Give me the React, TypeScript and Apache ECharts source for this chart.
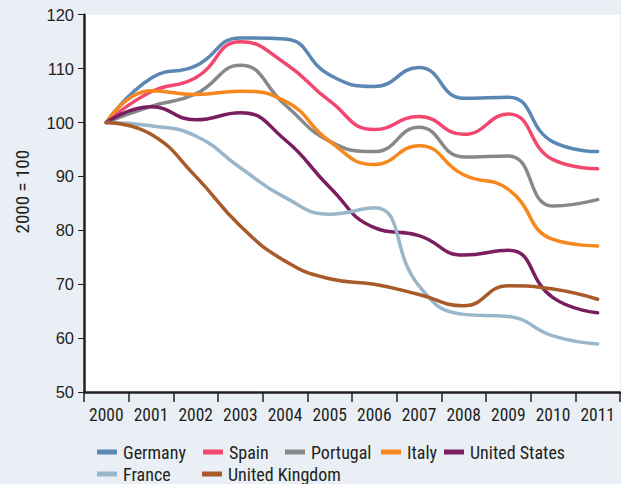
import React, { useEffect, useRef } from "react";
import * as echarts from "echarts";

const years = ["2000", "2001", "2002", "2003", "2004", "2005", "2006", "2007", "2008", "2009", "2010", "2011"];
const germany = [100, 108.2, 110.5, 115.7, 115.5, 108.8, 106.7, 110.2, 104.5, 104.7, 96.4, 94.6];
const spain = [100, 105.7, 108.3, 115.0, 111.0, 104.0, 98.7, 101.1, 97.8, 101.6, 93.1, 91.4];
const portugal = [100, 103.0, 105.3, 110.6, 103.3, 96.5, 94.6, 99.1, 93.6, 93.8, 84.5, 85.7];
const italy = [100, 105.9, 105.2, 105.8, 104.0, 96.5, 92.2, 95.7, 90.3, 87.6, 78.3, 77.1];
const unitedStates = [100, 102.9, 100.5, 101.8, 96.8, 88.0, 80.5, 79.0, 75.4, 76.3, 67.5, 64.7];
const france = [100, 99.4, 97.5, 91.6, 86.1, 83.0, 84.2, 69.7, 64.4, 64.0, 60.4, 58.9];
const unitedKingdom = [100, 97.8, 90.0, 80.8, 74.3, 71.0, 70.0, 68.1, 66.0, 69.7, 69.1, 67.2];

const seriesNames = ["Germany", "Spain", "Portugal", "Italy", "United States", "France", "United Kingdom"];
const seriesData = [germany, spain, portugal, italy, unitedStates, france, unitedKingdom];
const seriesColors = ["#5b87b5", "#f2476f", "#87888a", "#f7881f", "#7b1e5f", "#9ab6ca", "#a95a29"];

const yMin = 50;
const yMax = 120;
const yStep = 10;
const yName = "2000 = 100";

const NARROW = "'Roboto Condensed', 'Liberation Sans Narrow', 'Arial Narrow', sans-serif";
const REGULAR = "'Liberation Sans', Arial, sans-serif";
const INK = "#231f20";

const legendPos: [number, number][] = [
  [97, 443],
  [203, 443],
  [285, 443],
  [381, 443],
  [444, 443],
  [97, 465],
  [202, 465],
];

export default function App() {
  const ref = useRef<HTMLDivElement>(null);
  useEffect(() => {
    if (!ref.current) return;
    const chart = echarts.init(ref.current, null, { renderer: "svg" });
    chart.setOption({
      animation: false,
      backgroundColor: "#e9eff5",
      grid: {
        left: 84,
        right: 1,
        top: 14.7,
        bottom: 92,
        show: true,
        backgroundColor: "#ffffff",
        borderWidth: 0,
      },
      legend: seriesNames.map((n, i) => ({
        data: [n],
        left: legendPos[i][0],
        top: legendPos[i][1],
        padding: 0,
        itemGap: 0,
        itemWidth: 20,
        itemHeight: 5,
        icon: "rect",
        selectedMode: false,
        textStyle: { fontFamily: NARROW, fontSize: 18, color: INK, padding: [0, 0, 0, 1] },
      })),
      xAxis: {
        type: "category",
        data: years,
        boundaryGap: true,
        axisLine: { lineStyle: { color: INK, width: 2.5 } },
        axisTick: { show: true, interval: 0, length: 10, lineStyle: { color: INK, width: 1.5 } },
        axisLabel: { interval: 0, fontFamily: NARROW, fontSize: 17.5, color: INK, margin: 14 },
        splitLine: { show: false },
      },
      yAxis: {
        type: "value",
        min: yMin,
        max: yMax,
        interval: yStep,
        axisLine: { show: true, lineStyle: { color: INK, width: 2.5 } },
        axisTick: { show: true, length: 6, lineStyle: { color: INK, width: 1 } },
        axisLabel: { fontFamily: REGULAR, fontSize: 16.5, color: INK, margin: 10 },
        splitLine: { show: false },
      },
      graphic: [
        {
          type: "text",
          x: 22.5,
          y: 191.7,
          rotation: Math.PI / 2,
          style: {
            text: yName,
            fontFamily: NARROW,
            fontSize: 19,
            fill: INK,
            align: "center",
            verticalAlign: "middle",
            textAlign: "center",
            textVerticalAlign: "middle",
          },
        },
      ],
      series: seriesNames.map((n, i) => ({
        name: n,
        type: "line",
        data: seriesData[i],
        smooth: true,
        symbol: "none",
        color: seriesColors[i],
        lineStyle: { width: 3.5, color: seriesColors[i], cap: "round" },
      })),
    });
    return () => chart.dispose();
  }, []);
  return <div ref={ref} style={{ position: "fixed", left: 0, top: 0, width: 621, height: 484 }} />;
}
